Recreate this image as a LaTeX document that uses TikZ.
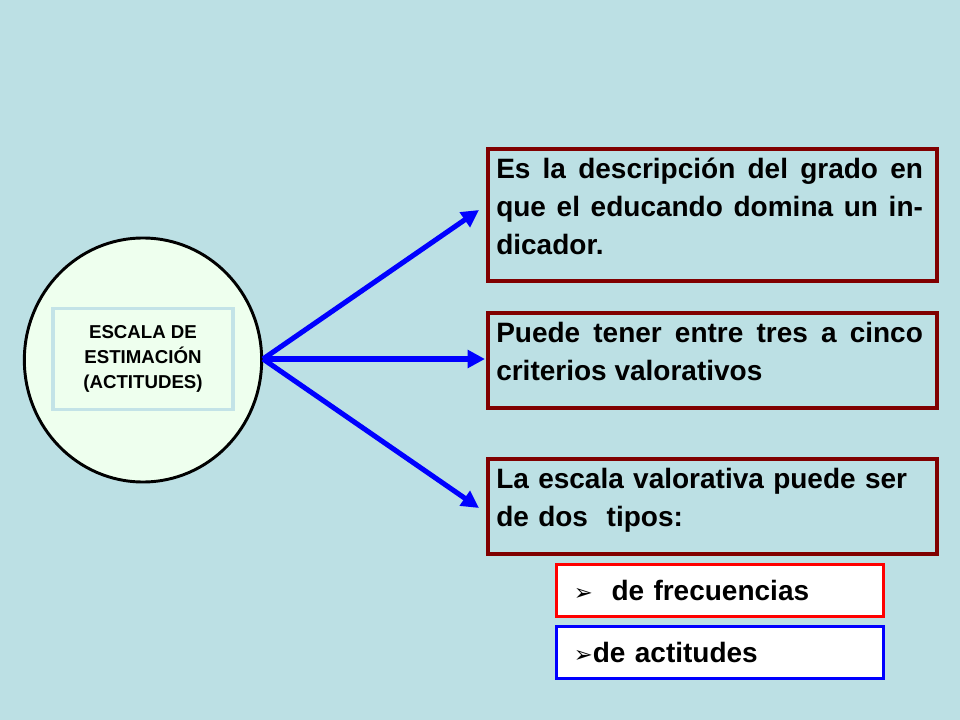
\documentclass[tikz,border=0pt]{standalone}
\usepackage{fontspec}
\setmainfont{Liberation Sans}
\newfontfamily\dvs{DejaVu Sans}
\usetikzlibrary{arrows.meta,shapes.geometric}
\definecolor{bg}{HTML}{BCE0E4}
\definecolor{dred}{HTML}{800000}
\definecolor{pale}{HTML}{EEFFEE}
\tikzset{
 txtbox/.style={draw=dred,line width=3pt,fill=bg,anchor=north west,inner sep=0pt},
 boxtext/.style={anchor=north west,inner sep=0pt,text width=320pt,font=\bfseries\fontsize{21}{28.5}\selectfont},
 smallbox/.style={line width=2.3pt,fill=white,anchor=north west,minimum width=245pt,minimum height=39pt,text width=235pt,inner sep=0pt,font=\bfseries\fontsize{21}{28.5}\selectfont,align=left},
 arr/.style={draw=blue,line width=3.8pt,-{Triangle[length=13pt,width=13pt]}}
}
\begin{document}
\begin{tikzpicture}[x=0.75pt,y=-0.75pt]
\fill[bg] (0,0) rectangle (960,720);
\node[draw=black,line width=2.2pt,fill=pale,ellipse,minimum width=178pt,minimum height=183pt,inner sep=0pt] (ell) at (143,360) {};
\node[draw=bg!90!white,line width=2.5pt,fill=pale,minimum width=135pt,minimum height=76pt,align=center,font=\bfseries\fontsize{14}{19}\selectfont] (lab) at (143,359) {ESCALA DE\\ESTIMACIÓN\\(ACTITUDES)};
\coordinate (src) at (263,359);
\node[txtbox,minimum width=337pt,minimum height=99pt] (b1) at (486,147) {};
\node[boxtext,align=justify] (t1) at (496,158) {Es la descripción del grado en que el educando domina un indicador.};
\node[txtbox,minimum width=337pt,minimum height=71pt] (b2) at (486,311) {};
\node[boxtext,align=justify] (t2) at (496,322) {Puede tener entre tres a cinco criterios valorativos};
\node[txtbox,minimum width=337pt,minimum height=71pt] (b3) at (486,457) {};
\node[boxtext,align=left] (t3) at (496,468) {La escala valorativa puede ser de dos\ \ tipos:};
\node[smallbox,draw=red] (b4) at (555,563) {\hspace*{8pt}{\dvs\mdseries\fontsize{17}{20}\selectfont ➢}\ \ de frecuencias};
\node[smallbox,draw=blue] (b5) at (555,625) {\hspace*{8pt}{\dvs\mdseries\fontsize{17}{20}\selectfont ➢}de actitudes};
\draw[arr] (src) -- (479,210);
\draw[arr] (src) -- (485,359);
\draw[arr] (src) -- (479,508);
\end{tikzpicture}
\end{document}
